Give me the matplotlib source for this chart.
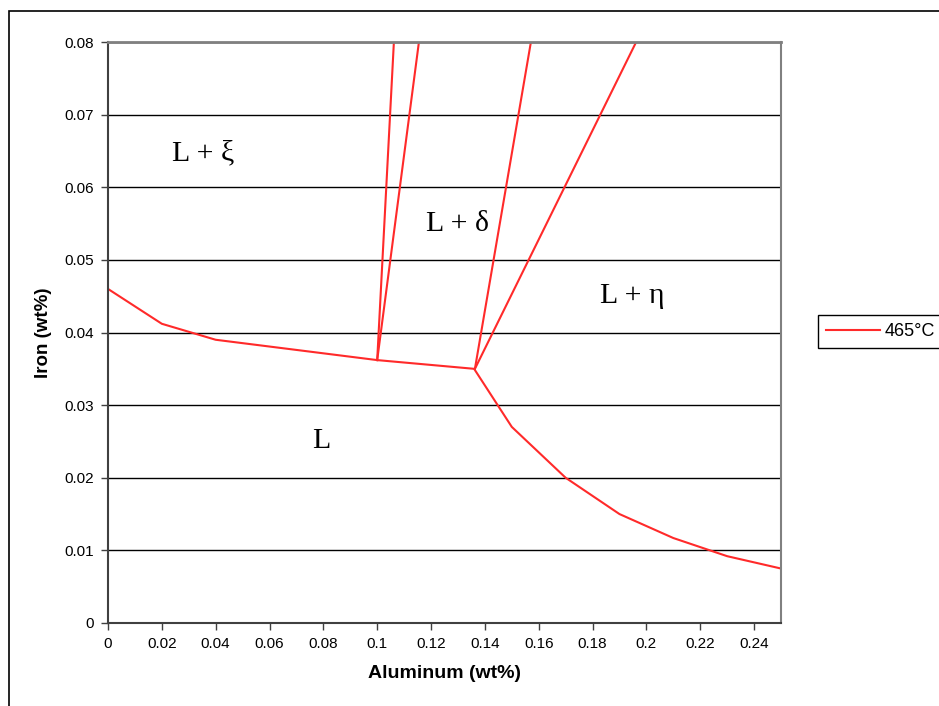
import matplotlib.pyplot as plt
from matplotlib.patches import Rectangle

# liquidus line at 465 C
liq_al = [0, 0.02, 0.04, 0.1, 0.136, 0.15, 0.17, 0.19, 0.21, 0.23, 0.25]
liq_fe = [0.046, 0.0412, 0.039, 0.0362, 0.035, 0.027, 0.02, 0.015, 0.0117, 0.0092, 0.0075]

# phase boundaries going up from the two junction points
bound_al = [[0.1, 0.1062], [0.1, 0.1155], [0.1363, 0.1571], [0.1363, 0.1962]]
bound_fe = [[0.0362, 0.08], [0.0362, 0.08], [0.035, 0.08], [0.035, 0.08]]

labels = ['L + \u03be', 'L + \u03b4', 'L + \u03b7', 'L']
label_al = [0.0352, 0.1298, 0.1948, 0.0792]
label_fe = [0.0646, 0.0550, 0.0450, 0.0250]

xticks = [0, 0.02, 0.04, 0.06, 0.08, 0.1, 0.12, 0.14, 0.16, 0.18, 0.2, 0.22, 0.24]
yticks = [0, 0.01, 0.02, 0.03, 0.04, 0.05, 0.06, 0.07, 0.08]

red = '#ff2a2a'

fig = plt.figure(figsize=(9.39, 7.06), dpi=100)
ax = fig.add_axes([108 / 939, 1 - 623 / 706, (781 - 108) / 939, (623 - 42) / 706])

ax.plot(liq_al, liq_fe, color=red, lw=1.5, label='465°C')
for bx, by in zip(bound_al, bound_fe):
    ax.plot(bx, by, color=red, lw=1.5)

for t, x, y in zip(labels, label_al, label_fe):
    ax.text(x, y, t, fontsize=21.5, family='Liberation Serif', ha='center', va='center')

ax.set_xlim(0, 0.25)
ax.set_ylim(0, 0.08)
ax.set_xticks(xticks)
ax.set_xticklabels([('%g' % v) for v in xticks])
ax.set_yticks(yticks)
ax.set_yticklabels([('%g' % v) for v in yticks])
ax.yaxis.grid(True, color='black', lw=1)
ax.set_axisbelow(True)
ax.tick_params(labelsize=11, length=5, width=1, color='#404040', pad=5)
for lab in ax.get_xticklabels() + ax.get_yticklabels():
    lab.set_family('Liberation Sans')

ax.spines['left'].set_color('#404040')
ax.spines['bottom'].set_color('#404040')
ax.spines['left'].set_linewidth(1.5)
ax.spines['bottom'].set_linewidth(1.5)
ax.spines['top'].set_color('#808080')
ax.spines['right'].set_color('#808080')
ax.spines['top'].set_linewidth(2)
ax.spines['right'].set_linewidth(1.5)

ax.set_xlabel('Aluminum (wt%)', fontsize=14, fontweight='bold', family='Liberation Sans', labelpad=10)
ax.set_ylabel('Iron (wt%)', fontsize=13.5, fontweight='bold', family='Liberation Sans', labelpad=9)

leg = fig.legend(loc='center left', bbox_to_anchor=(818 / 939, 1 - 331.5 / 706),
                 borderaxespad=0, fancybox=False, edgecolor='black', framealpha=1,
                 prop={'family': 'Liberation Sans', 'size': 13}, handlelength=3.0,
                 handletextpad=0.25, borderpad=0.45)
leg.get_frame().set_linewidth(1)

# outer chart border (runs off the right and bottom of the picture)
fig.patches.append(Rectangle((9 / 939, -0.1), 1.2, 1 - 11 / 706 + 0.1, transform=fig.transFigure,
                             fill=False, edgecolor='black', lw=1.2))

fig.savefig('out.png', dpi=100)
